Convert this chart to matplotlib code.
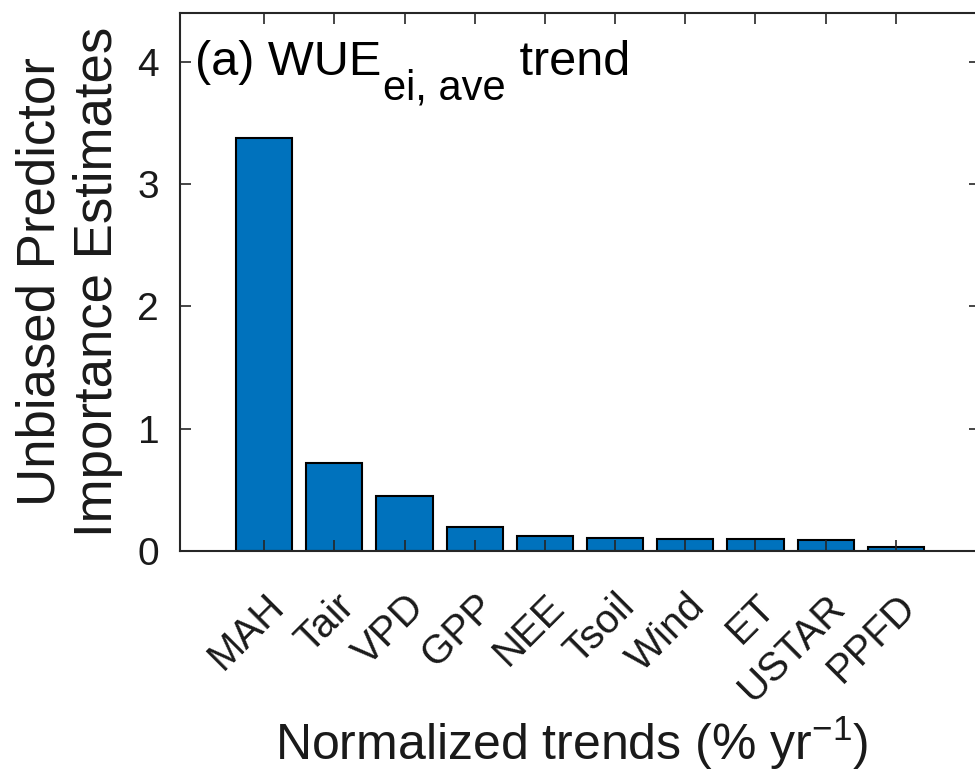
import matplotlib
matplotlib.use('Agg')
import matplotlib.pyplot as plt

# predictor importance for the WUE trend
predictors = ['MAH', 'Tair', 'VPD', 'GPP', 'NEE', 'Tsoil', 'Wind', 'ET', 'USTAR', 'PPFD']
importance = [3.38, 0.72, 0.45, 0.20, 0.12, 0.11, 0.10, 0.10, 0.09, 0.035]
yticks = [0, 1, 2, 3, 4]

plt.rcParams['font.family'] = ['Liberation Sans', 'DejaVu Sans']
plt.rcParams['mathtext.fontset'] = 'custom'
plt.rcParams['mathtext.rm'] = 'Liberation Sans'
plt.rcParams['mathtext.it'] = 'Liberation Sans:italic'

barColor = '#0072BD'
axColor = '#262626'
txtColor = '#1a1a1a'

fig = plt.figure(figsize=(9.75, 7.75), dpi=100)
ax = fig.add_axes([180/975, 1 - 551/775, 800/975, 538/775])

pos = list(range(1, len(predictors) + 1))
ax.bar(pos, importance, width=0.8, color=barColor, edgecolor='black', linewidth=1.5)

ax.set_xlim(-0.2, 11.2)
ax.set_ylim(0, 4.4)
ax.set_xticks(pos)
ax.set_xticklabels(predictors, rotation=45, ha='right', va='top', rotation_mode='anchor')
ax.set_yticks(yticks)

ax.tick_params(direction='in', length=8, width=1.2, color=axColor, labelcolor=txtColor,
               top=True, right=True)
ax.tick_params(axis='x', pad=26, labelsize=29)
ax.tick_params(axis='y', pad=15, labelsize=28)
for s in ax.spines.values():
    s.set_color(axColor)
    s.set_linewidth(1.5)

ax.set_ylabel('Unbiased Predictor\nImportance Estimates', fontsize=38, color=txtColor,
              linespacing=1.2)
ax.yaxis.set_label_coords(-0.0713, 0.5)
ax.set_xlabel('Normalized trends (% yr$^{-1}$)', fontsize=36, color=txtColor)
ax.xaxis.label.set_va('baseline')
ax.xaxis.set_label_coords(0.49, -(760 - 551) / 538)

# panel title with subscript, built from three pieces
t1 = ax.text(0.019, 0.885, '(a) WUE', transform=ax.transAxes, fontsize=35, va='baseline')
t2 = ax.annotate('ei, ave', xy=(1, 0), xycoords=t1, xytext=(1, -17),
                 textcoords='offset points', fontsize=30, va='bottom')
t3 = ax.annotate(' trend', xy=(1, 0), xycoords=(t2, t1), xytext=(0, 0),
                 textcoords='offset points', fontsize=35, va='bottom')

fig.savefig('out.png', dpi=100, facecolor='white')
